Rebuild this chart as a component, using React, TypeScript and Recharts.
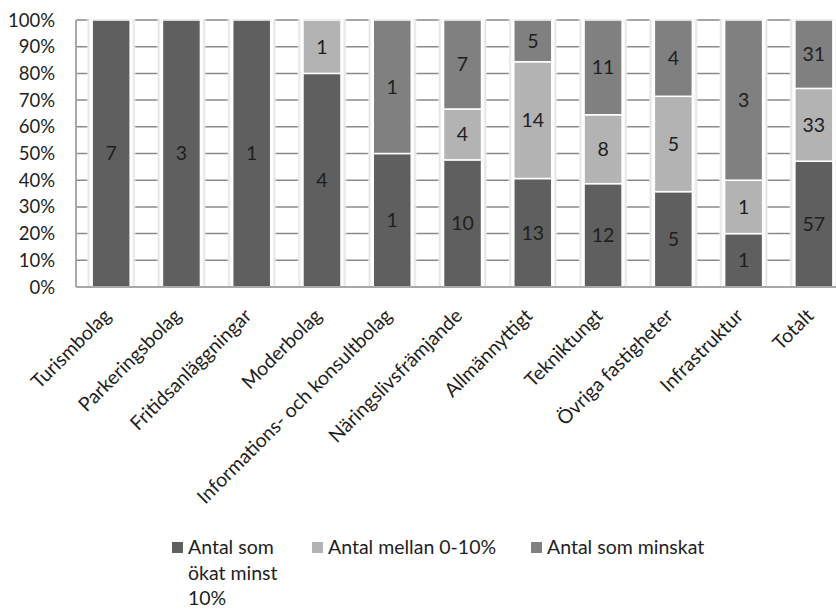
import React from 'react';
import { BarChart, Bar, XAxis, YAxis, CartesianGrid, LabelList, Legend } from 'recharts';

const categories = [
  'Turismbolag',
  'Parkeringsbolag',
  'Fritidsanläggningar',
  'Moderbolag',
  'Informations- och konsultbolag',
  'Näringslivsfrämjande',
  'Allmännyttigt',
  'Tekniktungt',
  'Övriga fastigheter',
  'Infrastruktur',
  'Totalt',
];

const okatMinst10 = [7, 3, 1, 4, 1, 10, 13, 12, 5, 1, 57];
const mellan0till10 = [0, 0, 0, 1, 0, 4, 14, 8, 5, 1, 33];
const minskat = [0, 0, 0, 0, 1, 7, 5, 11, 4, 3, 31];

const yTicks = [0, 0.1, 0.2, 0.3, 0.4, 0.5, 0.6, 0.7, 0.8, 0.9, 1];

const series = [
  { key: 'okat', name: 'Antal som ökat minst 10%', color: '#5f5f5f' },
  { key: 'mellan', name: 'Antal mellan 0-10%', color: '#b3b3b3' },
  { key: 'minskat', name: 'Antal som minskat', color: '#808080' },
];

const data = categories.map((name, i) => ({
  name,
  okat: okatMinst10[i],
  mellan: mellan0till10[i],
  minskat: minskat[i],
}));

const FONT = 'Lato, "Noto Sans", sans-serif';
const TEXT = '#1e1e1e';

// Stacked segment with a soft white/grey glow on both sides that masks the gridlines
const Segment = (props: any) => {
  const { x, y, width, height, fill } = props;
  if (!height || height <= 0) return null;
  return (
    <g>
      <defs>
        <linearGradient id="haloL" x1="0" y1="0" x2="1" y2="0">
          <stop offset="0" stopColor="#ffffff" stopOpacity={0} />
          <stop offset="0.35" stopColor="#e2e2e2" stopOpacity={1} />
          <stop offset="0.7" stopColor="#ffffff" stopOpacity={1} />
          <stop offset="1" stopColor="#ffffff" stopOpacity={1} />
        </linearGradient>
        <linearGradient id="haloR" x1="1" y1="0" x2="0" y2="0">
          <stop offset="0" stopColor="#ffffff" stopOpacity={0} />
          <stop offset="0.35" stopColor="#e2e2e2" stopOpacity={1} />
          <stop offset="0.7" stopColor="#ffffff" stopOpacity={1} />
          <stop offset="1" stopColor="#ffffff" stopOpacity={1} />
        </linearGradient>
      </defs>
      <rect x={x - 6} y={y - 1} width={6} height={height + 2} fill="url(#haloL)" />
      <rect x={x + width} y={y - 1} width={6} height={height + 2} fill="url(#haloR)" />
      <rect x={x} y={y} width={width} height={height} fill={fill} stroke="#ffffff" strokeWidth={1.5} />
    </g>
  );
};

const CategoryTick = (props: any) => {
  const { x, y, payload } = props;
  const ax = x + 1;
  const ay = y + 22;
  return (
    <text
      x={ax}
      y={ay}
      transform={`rotate(-45, ${ax}, ${ay})`}
      textAnchor="end"
      fontFamily={FONT}
      fontSize={19.5}
      fill={TEXT}
    >
      {payload.value}
    </text>
  );
};

const legendLeft = [172, 312, 531];

const LegendContent = () => (
  <div style={{ position: 'relative', width: 836, height: 80, fontFamily: FONT, fontSize: 19.5, color: TEXT }}>
    {series.map((s, i) => (
      <div
        key={s.key}
        style={{ position: 'absolute', left: legendLeft[i], top: 0, display: 'flex', alignItems: 'flex-start' }}
      >
        <div style={{ width: 11, height: 11, background: s.color, marginTop: 8, marginRight: 5 }} />
        <div style={{ width: i === 0 ? 104 : 'auto', whiteSpace: i === 0 ? 'normal' : 'nowrap', lineHeight: '25.5px' }}>
          {s.name}
        </div>
      </div>
    ))}
  </div>
);

export default function App() {
  return (
    <div style={{ position: 'absolute', left: 0, top: 0, width: 836, height: 609, overflow: 'hidden', background: '#fff' }}>
      <BarChart
        width={860}
        height={609}
        data={data}
        stackOffset="expand"
        barCategoryGap="23%"
        margin={{ top: 20, right: 11, left: 0, bottom: 0 }}
      >
        <CartesianGrid vertical={false} stroke="#8a8a8a" strokeWidth={1.5} />
        <XAxis
          dataKey="name"
          interval={0}
          height={322}
          tickLine={false}
          axisLine={{ stroke: '#a8a8a8', strokeWidth: 2 }}
          tick={<CategoryTick />}
        />
        <YAxis
          width={76}
          domain={[0, 1]}
          ticks={yTicks}
          tickFormatter={(v: number) => `${Math.round(v * 100)}%`}
          tickLine={false}
          tickMargin={15}
          axisLine={{ stroke: '#a8a8a8', strokeWidth: 2 }}
          tick={{ fontFamily: FONT, fontSize: 18.5, fill: TEXT }}
        />
        <Legend
          layout="horizontal"
          verticalAlign="middle"
          content={<LegendContent />}
          wrapperStyle={{ position: 'absolute', left: 0, top: 534, width: 836, height: 75 }}
        />
        {series.map((s) => (
          <Bar
            key={s.key}
            dataKey={s.key}
            name={s.name}
            stackId="a"
            fill={s.color}
            shape={<Segment />}
            isAnimationActive={false}
          >
            <LabelList
              dataKey={s.key}
              position="center"
              fill={TEXT}
              fontFamily={FONT}
              fontSize={19.5}
              formatter={(v: any) => (v ? v : '')}
            />
          </Bar>
        ))}
      </BarChart>
    </div>
  );
}
